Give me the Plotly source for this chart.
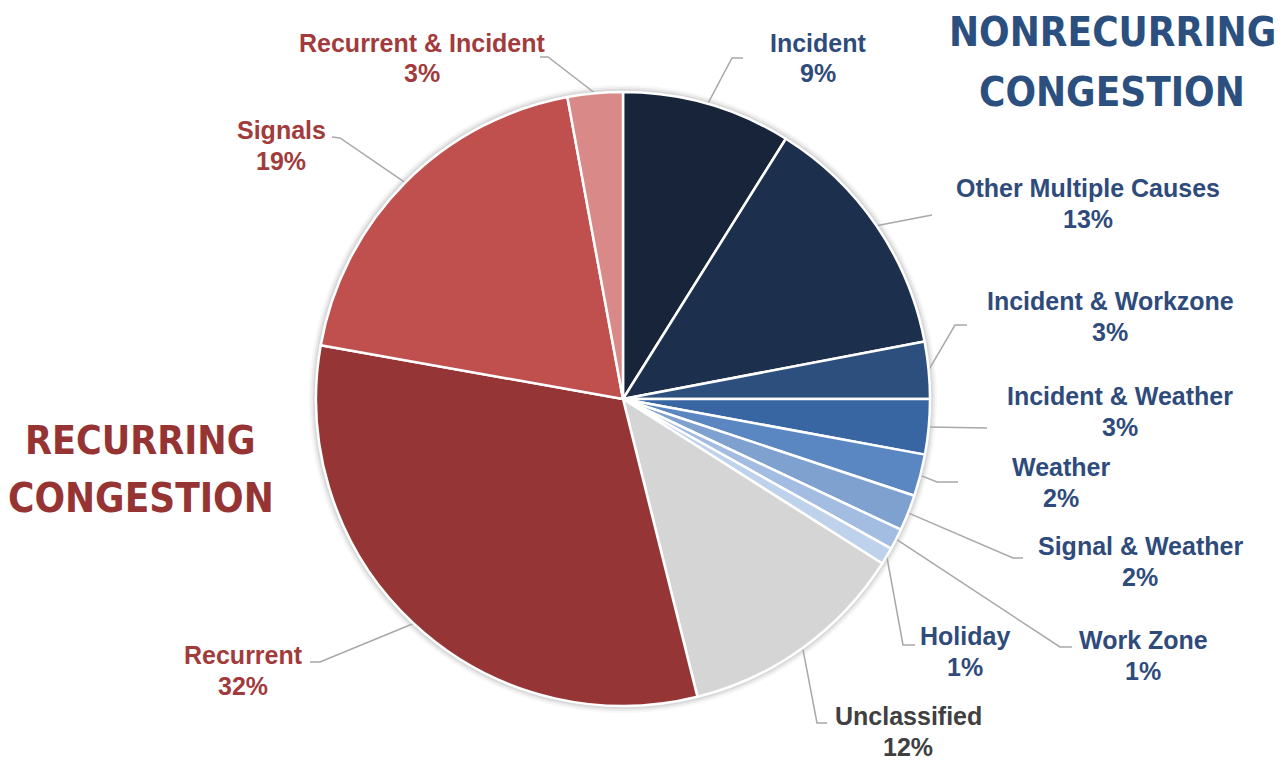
import math
import plotly.graph_objects as go

# ---------------- data ----------------
categories = ["Incident", "Other Multiple Causes", "Incident & Workzone", "Incident & Weather",
              "Weather", "Signal & Weather", "Work Zone", "Holiday", "Unclassified",
              "Recurrent", "Signals", "Recurrent & Incident"]
shares = [8.9, 13.1, 3.0, 2.9, 2.2, 1.9, 1.1, 0.9, 12.1, 31.7, 19.3, 2.9]
groups = ["non", "non", "non", "non", "non", "non", "non", "non", "unc", "rec", "rec", "rec"]

# ---------------- style ----------------
slice_colors = ["#17243a", "#1c2f4d", "#2c4f7e", "#3866a3", "#5a87c2", "#7ea1d0",
                "#a2bce2", "#bfd2ec", "#d5d5d5", "#953535", "#c0504e", "#d98a88"]
text_colors = {"non": "#2f4b7b", "rec": "#a23b3b", "unc": "#404040"}

W, H = 1286, 762
CX, CY, R = 623, 399, 307

# label layout: (text centre x, name line y, percent line y)
label_pos = [(818, 43, 73), (1088, 188, 219), (1110, 301, 332), (1120, 396, 427),
             (1061, 467, 498), (1140, 546, 577), (1143, 640, 671), (965, 636, 667),
             (908, 716, 747), (243, 655, 686), (281, 130, 161), (422, 43, 73)]
# leader elbows / ends (pixel layout)
leader_pts = [[(732, 58), (743, 58)], [(932, 215)], [(955, 325), (967, 325)], [(987, 428)],
              [(937, 482), (958, 482)], [(1013, 558), (1023, 558)], [(1060, 647), (1072, 647)],
              [(903, 645), (915, 645)], [(817, 723), (827, 723)], [(320, 662), (310, 662)],
              [(340, 138), (332, 137)], [(548, 57), (540, 57)]]

LABEL_FONT = "Liberation Sans, Arial, sans-serif"
HEAD_FONT = "DejaVu Sans Condensed, Liberation Sans Narrow, Arial Narrow, sans-serif"

fig = go.Figure()

# soft shadow ring around the pie
for k, alpha in [(7, 0.03), (5, 0.05), (3, 0.07)]:
    fig.add_shape(type="circle", xref="x", yref="y", x0=CX - R - k, x1=CX + R + k,
                  y0=CY - R - k, y1=CY + R + k, line=dict(width=0),
                  fillcolor=f"rgba(0,0,0,{alpha})", layer="below")

fig.add_trace(go.Pie(
    labels=categories, values=shares, sort=False, direction="clockwise", rotation=0,
    marker=dict(colors=slice_colors, line=dict(color="white", width=2.5)),
    textinfo="none", hoverinfo="label+percent", showlegend=False,
    domain=dict(x=[(CX - R) / W, (CX + R) / W], y=[(H - CY - R) / H, (H - CY + R) / H]),
))

total = sum(shares)
cum = 0.0
for i, (cat, v) in enumerate(zip(categories, shares)):
    mid = (cum + v / 2) / total * 2 * math.pi
    cum += v
    sx = CX + R * math.sin(mid)
    sy = CY - R * math.cos(mid)
    xs = [sx] + [p[0] for p in leader_pts[i]]
    ys = [sy] + [p[1] for p in leader_pts[i]]
    fig.add_trace(go.Scatter(x=xs, y=ys, mode="lines", line=dict(color="#a8a8a8", width=1.5),
                             hoverinfo="skip", showlegend=False))
    tx, y1, y2 = label_pos[i]
    col = text_colors[groups[i]]
    for txt, yy in [(cat, y1), (f"{round(v)}%", y2)]:
        fig.add_annotation(x=tx, y=yy, text=f"<b>{txt}</b>", showarrow=False,
                           xanchor="center", yanchor="middle",
                           font=dict(family=LABEL_FONT, size=25, color=col))

for txt, x, y, size, col in [("NONRECURRING", 1112, 32, 40, "#2b4f7e"),
                             ("CONGESTION", 1112, 92, 40, "#2b4f7e"),
                             ("RECURRING", 140, 440, 39, "#963434"),
                             ("CONGESTION", 141, 498, 40, "#963434")]:
    fig.add_annotation(x=x, y=y, text=f"<b>{txt}</b>", showarrow=False, xanchor="center",
                       yanchor="middle", font=dict(family=HEAD_FONT, size=size, color=col))

fig.update_layout(
    width=W, height=H, margin=dict(l=0, r=0, t=0, b=0),
    paper_bgcolor="white", plot_bgcolor="rgba(0,0,0,0)",
    font=dict(family=LABEL_FONT),
    xaxis=dict(range=[0, W], visible=False, fixedrange=True),
    yaxis=dict(range=[H, 0], visible=False, fixedrange=True),
)
fig.write_html("out.html")
